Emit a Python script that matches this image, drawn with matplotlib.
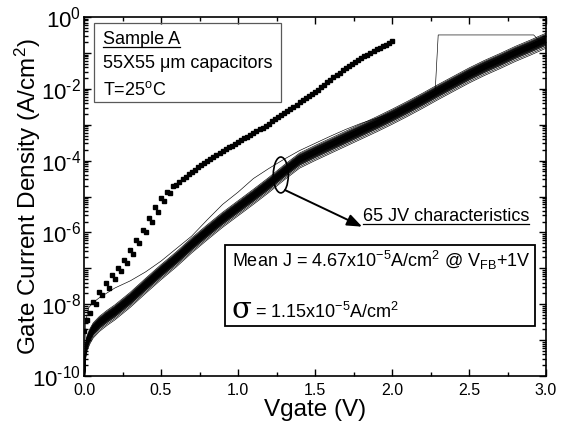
import numpy as np
import matplotlib
matplotlib.use("Agg")
import matplotlib.pyplot as plt
from matplotlib.patches import Ellipse, Rectangle
from matplotlib.lines import Line2D
from matplotlib.ticker import FixedLocator, FuncFormatter, MultipleLocator, LogLocator, NullFormatter

plt.rcParams['font.family'] = ['Liberation Sans', 'DejaVu Sans']
plt.rcParams['mathtext.fontset'] = 'custom'
plt.rcParams['mathtext.rm'] = 'Liberation Sans'
plt.rcParams['mathtext.it'] = 'Liberation Sans:italic'
plt.rcParams['mathtext.bf'] = 'Liberation Sans:bold'
plt.rcParams['mathtext.default'] = 'regular'

# =======================================================================
# Data (log10 of J in A/cm^2)
# =======================================================================

# centre of the 65-curve bundle
vg_band = [0.00, 0.01, 0.02, 0.04, 0.06, 0.10, 0.15, 0.20, 0.30, 0.40,
           0.50, 0.60, 0.70, 0.80, 0.90, 1.00, 1.10, 1.20, 1.30, 1.40,
           1.50, 1.60, 1.70, 1.80, 1.90, 2.00, 2.10, 2.20, 2.30, 2.40,
           2.50, 2.60, 2.70, 2.80, 2.90, 3.00]
logj_band = [-10.3, -9.3, -9.05, -8.85, -8.70, -8.52, -8.35, -8.20, -7.85, -7.46,
             -7.08, -6.72, -6.33, -5.97, -5.62, -5.30, -4.98, -4.65, -4.30, -3.97,
             -3.76, -3.56, -3.36, -3.16, -2.96, -2.75, -2.53, -2.30, -2.06, -1.83,
             -1.60, -1.39, -1.20, -1.00, -0.82, -0.63]

# spread of the individual curves around the bundle centre (decades)
band_offsets = [-0.16, -0.13, -0.12, -0.10, -0.09, -0.08, -0.07, -0.07, -0.06, -0.06,
                -0.05, -0.05, -0.04, -0.04, -0.04, -0.03, -0.03, -0.03, -0.02, -0.02,
                -0.02, -0.01, -0.01, -0.01, 0.00, 0.00, 0.00, 0.00, 0.01, 0.01,
                0.01, 0.02, 0.02, 0.02, 0.03, 0.03, 0.03, 0.04, 0.04, 0.04,
                0.05, 0.05, 0.06, 0.06, 0.07, 0.07, 0.08, 0.09, 0.10, 0.11,
                0.13, 0.15, -0.20, -0.24, 0.18, -0.11, 0.12, -0.15, 0.00, 0.02,
                -0.02, 0.05, -0.05]

# leaky outlier curve above the bundle
vg_upper = [0.00, 0.01, 0.03, 0.06, 0.10, 0.20, 0.30, 0.40, 0.50, 0.60,
            0.70, 0.80, 0.90, 1.00, 1.10, 1.20, 1.30, 1.40, 1.50, 1.60,
            1.70, 1.80, 1.90, 2.00, 2.10, 2.20, 2.30, 2.40, 2.50, 2.60,
            2.70, 2.80, 2.90, 3.00]
logj_upper = [-10.3, -8.5, -8.1, -7.95, -7.82, -7.55, -7.35, -7.10, -6.80, -6.45,
              -6.10, -5.65, -5.22, -4.88, -4.50, -4.22, -3.96, -3.72, -3.52, -3.32,
              -3.13, -2.96, -2.82, -2.68, -2.50, -2.27, -2.03, -1.80, -1.57, -1.36,
              -1.17, -0.97, -0.79, -0.60]

# curve that hits compliance near 2.3 V
vg_comp = [0.00, 0.01, 0.02, 0.04, 0.06, 0.10, 0.15, 0.20, 0.30, 0.40,
           0.50, 0.60, 0.70, 0.80, 0.90, 1.00, 1.10, 1.20, 1.30, 1.40,
           1.50, 1.60, 1.70, 1.80, 1.90, 2.00, 2.10, 2.20, 2.28, 2.30,
           2.92, 2.96, 3.00]
logj_comp = [-10.3, -9.3, -9.05, -8.85, -8.70, -8.52, -8.35, -8.20, -7.85, -7.46,
             -7.08, -6.72, -6.33, -5.97, -5.62, -5.30, -4.98, -4.65, -4.30, -3.97,
             -3.76, -3.56, -3.36, -3.16, -2.96, -2.75, -2.53, -2.30, -2.10, -0.50,
             -0.50, -0.68, -0.60]

# square markers, 0 to 2.0 V in 0.02 V steps
logj_sq = [-8.75, -8.45, -8.25, -7.95, -8.00, -7.65, -7.75, -7.42, -7.55, -7.20,
           -7.30, -6.98, -7.08, -6.78, -6.85, -6.50, -6.60, -6.22, -6.30, -5.92,
           -6.00, -5.60, -5.70, -5.30, -5.42, -5.05, -5.12, -4.88, -4.90, -4.72,
           -4.68, -4.60, -4.52, -4.45, -4.38, -4.31, -4.25, -4.19, -4.12, -4.06,
           -4.00, -3.95, -3.90, -3.85, -3.80, -3.72, -3.68, -3.63, -3.58, -3.53,
           -3.48, -3.43, -3.38, -3.33, -3.28, -3.23, -3.18, -3.13, -3.08, -3.03,
           -2.97, -2.91, -2.85, -2.79, -2.74, -2.68, -2.62, -2.56, -2.50, -2.44,
           -2.38, -2.32, -2.26, -2.21, -2.15, -2.10, -2.03, -1.96, -1.89, -1.82,
           -1.75, -1.68, -1.62, -1.55, -1.49, -1.42, -1.37, -1.31, -1.26, -1.20,
           -1.15, -1.10, -1.05, -1.00, -0.95, -0.90, -0.86, -0.81, -0.77, -0.72,
           -0.68]
vg_sq = np.linspace(0.0, 2.0, len(logj_sq))

# =======================================================================
# Figure
# =======================================================================

fig = plt.figure(figsize=(5.75, 4.28), dpi=100)
fig.patch.set_facecolor('white')
ax = fig.add_axes([84 / 575, 52 / 428, 462 / 575, 359 / 428])

vb = np.array(vg_band)
lb = np.array(logj_band)
for off in band_offsets:
    ax.plot(vb, 10 ** (lb + off), color='k', lw=0.45)
ax.plot(vg_upper, 10 ** np.array(logj_upper), color='k', lw=0.45)
ax.plot(vg_comp, 10 ** np.array(logj_comp), color='k', lw=0.45)

ax.plot(vg_sq, 10 ** np.array(logj_sq), ls='none', marker='s',
        ms=3.3, color='k', mec='k')

ax.set_yscale('log')
ax.set_xlim(0, 3.0)
ax.set_ylim(1e-10, 1)

ax.xaxis.set_major_locator(MultipleLocator(0.5))
ax.xaxis.set_minor_locator(MultipleLocator(0.25))
ax.xaxis.set_major_formatter(FuncFormatter(lambda v, p: f'{v:.1f}'))

ax.yaxis.set_major_locator(FixedLocator([10.0 ** k for k in range(-10, 1)]))
ax.yaxis.set_minor_locator(LogLocator(base=10, subs=np.arange(2, 10), numticks=20))
ax.yaxis.set_minor_formatter(NullFormatter())


def ylab(v, pos):
    k = int(round(np.log10(v)))
    if k % 2:
        return ''
    if k < 0:
        return r'$10^{\text{-}%d}$' % (-k)
    return r'$10^{%d}$' % k


ax.yaxis.set_major_formatter(FuncFormatter(ylab))

ax.tick_params(which='both', direction='in', top=True, right=True, width=1.0)
ax.tick_params(which='major', length=5)
ax.tick_params(which='minor', length=3)
ax.tick_params(axis='x', labelsize=11.5, pad=5)
ax.tick_params(axis='y', labelsize=16, pad=2)
for s in ax.spines.values():
    s.set_linewidth(1.2)

ax.set_xlabel('Vgate (V)', fontsize=17.5, labelpad=1)
ax.set_ylabel('Gate Current Density (A/cm$^2$)', fontsize=17.5)
ax.yaxis.set_label_coords(-0.088, 0.5)

# text box: sample
ax.add_patch(Rectangle((0.0216, 0.763), 0.405, 0.220, transform=ax.transAxes,
                       fill=False, ec='0.35', lw=0.9, zorder=5))
t_sample = ax.text(0.041, 0.925, 'Sample A', transform=ax.transAxes,
                   fontsize=13, va='baseline')
ax.text(0.041, 0.858, '55X55 \u03bcm capacitors', transform=ax.transAxes,
        fontsize=13, va='baseline')
ax.text(0.041, 0.783, 'T=25$^{o}$C', transform=ax.transAxes,
        fontsize=13, va='baseline')

# text box: statistics
ax.add_patch(Rectangle((0.305, 0.139), 0.671, 0.2256, transform=ax.transAxes,
                       fill=False, ec='k', lw=1.3, zorder=5))
ax.text(0.320, 0.304, 'Mean J = 4.67x10$^{-5}$A/cm$^{2}$ @ V$_{FB}$+1V',
        transform=ax.transAxes, fontsize=13, va='baseline')
ax.text(0.320, 0.1616, '\u03c3', transform=ax.transAxes, fontsize=21,
        va='baseline', family=['DejaVu Serif', 'DejaVu Sans'])
ax.text(0.370, 0.1616, '= 1.15x10$^{-5}$A/cm$^{2}$',
        transform=ax.transAxes, fontsize=13, va='baseline')

# ellipse and arrow
ax.add_patch(Ellipse((0.426, 0.56), 0.0325, 0.100, transform=ax.transAxes,
                     fill=False, ec='k', lw=1.2, zorder=6))
ax.annotate('', xy=(0.602, 0.416), xytext=(0.435, 0.518),
            xycoords='axes fraction', textcoords='axes fraction',
            arrowprops=dict(arrowstyle='-|>,head_length=0.9,head_width=0.35',
                            color='k', lw=1.4, shrinkA=0, shrinkB=0))
t_65 = ax.text(0.604, 0.433, '65 JV characteristics', transform=ax.transAxes,
               fontsize=13, va='baseline')

# underlines
fig.canvas.draw()
inv = fig.transFigure.inverted()
for t in (t_sample, t_65):
    bb = t.get_window_extent()
    (x0, y0), (x1, y1) = inv.transform([[bb.x0, bb.y0], [bb.x1, bb.y1]])
    fig.add_artist(Line2D([x0, x1], [y0 + 0.002, y0 + 0.002],
                          transform=fig.transFigure, color='k', lw=0.9))

fig.savefig('out.png', dpi=100, facecolor='white')
